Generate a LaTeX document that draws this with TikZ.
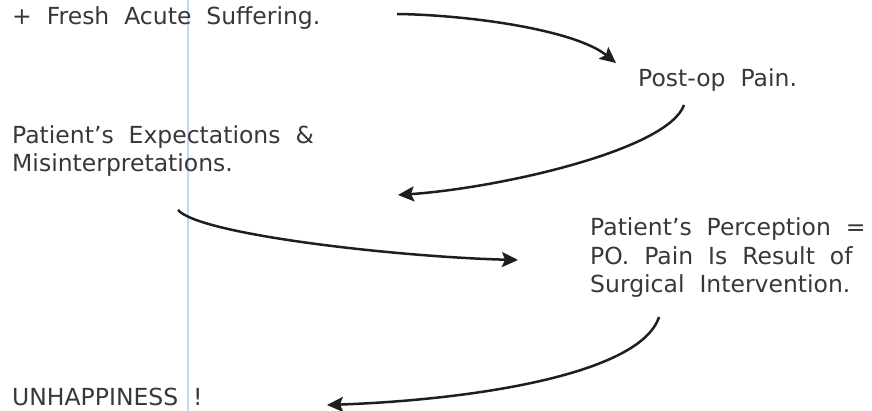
\documentclass[tikz,border=0pt]{standalone}
\usepackage{fontspec}
\setmainfont[WordSpace=2.0]{DejaVu Sans}
\usetikzlibrary{arrows.meta}
\definecolor{inkgray}{HTML}{383838}
\definecolor{arrowink}{HTML}{1E1E1E}
\definecolor{marginblue}{HTML}{C4D8F0}

\begin{document}
\begin{tikzpicture}[x=1pt, y=1pt,
    txt/.style = {anchor=base west, inner sep=0, text=inkgray, align=left,
                  font=\fontsize{23.5}{28.5}\selectfont},
    flow/.style = {draw=arrowink, line width=2.5pt, -{Stealth[length=16pt,width=15pt,inset=3pt]}}]

    \useasboundingbox (0,0) rectangle (872,-411);
    \draw [marginblue, line width=1.5pt] (188,0) -- (188,-411);

    \node [txt] (fresh) at (12,-25) {+ Fresh Acute Suffering.};
    \node [txt] (postop) at (638,-87) {Post-op Pain.};
    \node [txt] (expect) at (12,-172) {Patient's Expectations \&\\Misinterpretations.};
    \node [txt] (percept) at (590,-293) {Patient's Perception =\\PO. Pain Is Result of\\Surgical Intervention.};
    \node [txt] (unhappy) at (12,-405) {UNHAPPINESS !};

    \coordinate (s1) at (397,-14);  \coordinate (e1) at (616,-63);
    \coordinate (s2) at (684,-105); \coordinate (e2) at (398,-195);
    \coordinate (s3) at (178,-210); \coordinate (e3) at (518,-260);
    \coordinate (s4) at (659,-317); \coordinate (e4) at (327,-405);

    \draw [flow] (s1) .. controls +(73,-1) and +(-41,33) .. (e1);
    \draw [flow] (s2) .. controls +(-16,-45) and +(102,7) .. (e2);
    \draw [flow] (s3) .. controls +(22,-25) and +(-118,3) .. (e3);
    \draw [flow] (s4) .. controls +(-19,-58) and +(143,5) .. (e4);

\end{tikzpicture}
\end{document}
